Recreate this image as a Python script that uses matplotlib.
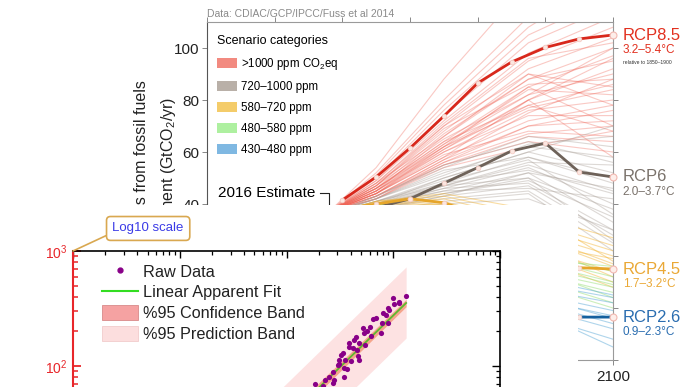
import numpy as np
import matplotlib.pyplot as plt
from matplotlib.patches import Patch
from matplotlib.lines import Line2D

plt.rcParams['font.family'] = 'Liberation Sans'
plt.rcParams['mathtext.fontset'] = 'custom'
plt.rcParams['mathtext.rm'] = 'Liberation Sans'
plt.rcParams['mathtext.it'] = 'Liberation Sans:italic'

# ---------------- background chart: emission scenarios ----------------
scen_years = [2016, 2030, 2050, 2075, 2100]
red_runs = [
    [37, 52, 80, 112, 135], [37, 54, 88, 125, 150], [37, 50, 76, 105, 120],
    [37, 49, 72, 98, 112], [37, 48, 70, 95, 108], [37, 47, 68, 92, 104],
    [37, 48, 66, 88, 100], [37, 46, 64, 85, 97], [37, 47, 65, 82, 90],
    [37, 45, 62, 80, 92], [37, 46, 63, 84, 82], [37, 45, 61, 78, 86],
    [37, 44, 60, 76, 80], [37, 46, 62, 85, 70], [37, 44, 58, 72, 78],
    [37, 45, 60, 74, 74], [37, 43, 57, 70, 72], [37, 44, 59, 68, 66],
    [37, 43, 56, 67, 70], [37, 44, 58, 80, 58], [37, 42, 55, 66, 64],
    [37, 43, 55, 64, 60], [37, 42, 54, 62, 68], [37, 45, 66, 90, 85],
    [37, 47, 70, 90, 78], [37, 46, 67, 88, 95], [37, 49, 74, 102, 116],
    [37, 51, 78, 108, 128], [37, 43, 57, 75, 88], [37, 44, 61, 80, 96],
    [37, 42, 56, 70, 76], [37, 46, 64, 78, 68], [37, 48, 71, 96, 102],
    [37, 47, 69, 86, 88], [37, 45, 63, 82, 100], [37, 44, 62, 77, 84],
]
grey_runs = [
    [36, 42, 52, 62, 58], [36, 41, 50, 60, 52], [36, 43, 54, 66, 62],
    [36, 40, 48, 58, 48], [36, 40, 47, 55, 45], [36, 39, 46, 54, 40],
    [36, 41, 49, 57, 36], [36, 38, 44, 50, 38], [36, 42, 51, 63, 66],
    [36, 39, 45, 52, 33], [36, 40, 46, 48, 30], [36, 38, 43, 47, 28],
    [36, 41, 48, 53, 44], [36, 39, 47, 56, 55], [36, 40, 50, 60, 70],
    [36, 38, 42, 45, 25], [36, 37, 41, 44, 22], [36, 39, 44, 49, 35],
    [36, 40, 45, 46, 42], [36, 42, 53, 58, 50], [36, 38, 43, 52, 46],
    [36, 41, 47, 50, 26], [36, 37, 40, 42, 30], [36, 43, 55, 64, 56],
]
orange_runs = [
    [36, 40, 42, 34, 24], [36, 39, 40, 30, 20], [36, 41, 43, 36, 27],
    [36, 38, 38, 28, 16], [36, 40, 41, 32, 22], [36, 37, 35, 24, 14],
    [36, 39, 39, 26, 12], [36, 38, 36, 22, 10], [36, 41, 44, 38, 18],
    [36, 37, 34, 20, 8], [36, 40, 40, 29, 17], [36, 39, 37, 25, 19],
]
green_runs = [
    [36, 39, 36, 20, 12], [36, 38, 33, 17, 9], [36, 40, 38, 22, 14],
    [36, 37, 31, 14, 6], [36, 38, 34, 18, 10], [36, 39, 35, 16, 4],
    [36, 36, 29, 12, 2], [36, 38, 32, 15, 8], [36, 40, 37, 19, 16],
    [36, 37, 30, 10, 0],
]
blue_runs = [
    [36, 37, 28, 8, 2], [36, 36, 25, 4, -3], [36, 38, 30, 10, 4],
    [36, 35, 22, 1, -8], [36, 37, 27, 6, -1], [36, 34, 20, -2, -12],
    [36, 36, 24, 3, -6], [36, 38, 31, 12, 5], [36, 35, 21, 0, -15],
    [36, 37, 26, 5, -4],
]
category_labels = ['>1000 ppm CO$_2$eq', '720\u20131000 ppm', '580\u2013720 ppm',
                   '480\u2013580 ppm', '430\u2013480 ppm']
category_colors = ['#ef5b4c', '#aaa098', '#f2b230', '#8fdc6a', '#4ea2d4']
category_alpha = [0.33, 0.4, 0.45, 0.45, 0.45]
legend_colors = ['#f28a80', '#b9b0a8', '#f4cc6a', '#aef0a0', '#7fb8e2']

rcp_years = [2020, 2030, 2040, 2050, 2060, 2070, 2080, 2090, 2100]
rcp85 = [41.5, 50.4, 61.5, 73.8, 86.5, 94.6, 100.2, 103.5, 105]
rcp6 = [36, 38.5, 42, 48, 54, 60.4, 63.4, 52.3, 50.4]
rcp45 = [38, 40, 42, 40.5, 36, 30, 22, 15.5, 15]
rcp26 = [37, 36, 30, 22, 14, 8, 2, -3.5, -3.5]
rcp_names = ['RCP8.5', 'RCP6', 'RCP4.5', 'RCP2.6']
rcp_ranges = ['3.2\u20135.4\u00b0C', '2.0\u20133.7\u00b0C', '1.7\u20133.2\u00b0C', '0.9\u20132.3\u00b0C']
rcp_colors = ['#d8281c', '#6e6259', '#e6a52a', '#14609e']
rcp_text_colors = ['#e2301f', '#7a726b', '#eaa835', '#2a6db0']

est_year, est_value = 2016, 37

# ---------------- inset: log-log regression ----------------
raw_x = [1315, 1000, 1122, 885, 807, 855, 784, 898, 641, 606, 568, 516, 536, 448,
         432, 382, 417, 454, 464, 481, 336, 313, 356, 301, 348, 366, 343, 271,
         252, 281, 231, 183, 218, 918, 767, 481, 388, 324, 313, 1138, 693, 1012,
         623, 547, 405, 275]
raw_y = [406, 388, 351, 318, 287, 277, 238, 235, 255, 220, 203, 213, 192, 180,
         168, 157, 143, 138, 122, 113, 131, 113, 113, 102, 95.5, 93.6, 79.8, 89.1,
         80.7, 75.5, 75.5, 69.7, 67, 307, 192, 157, 147, 125, 105, 362, 261, 346,
         182, 152, 110, 71]
fit_x = [80, 1320]
fit_y = [28.3, 353]
conf_lo = [25.5, 328]
conf_hi = [31.5, 380]
pred_lo = [13.9, 175]
pred_hi = [57.7, 727]

W, H = 692, 387


def box(l, t, r, b):
    return [l / W, 1 - b / H, (r - l) / W, (b - t) / H]


fig = plt.figure(figsize=(W / 100, H / 100), dpi=100)

ax1 = fig.add_axes(box(207, 22, 613, 360), zorder=0)
for runs, col, al in zip([red_runs, grey_runs, orange_runs, green_runs, blue_runs],
                         category_colors, category_alpha):
    for r in runs:
        ax1.plot(scen_years, r, color=col, lw=0.8, alpha=al, zorder=1)

for vals, col in zip([rcp85, rcp6, rcp45, rcp26], rcp_colors):
    ax1.plot(rcp_years, vals, color=col, lw=2, zorder=3)
    ax1.plot(rcp_years[:-1], vals[:-1], 'o', ms=3.4, mfc='#fbe6e0', mec='#f4c8c0', mew=0.5, zorder=4)
    ax1.plot(rcp_years[-1:], vals[-1:], 'o', ms=5, mfc='#fdeeea', mec='#f2b8b0', mew=0.8,
             zorder=5, clip_on=False)

for name, rng, vals, tc in zip(rcp_names, rcp_ranges, [rcp85, rcp6, rcp45, rcp26], rcp_text_colors):
    ax1.annotate(name, xy=(2100, vals[-1]), xytext=(7, 0), textcoords='offset points',
                 va='center', ha='left', fontsize=12, color=tc, annotation_clip=False)
    ax1.annotate(rng, xy=(2100, vals[-1]), xytext=(7, -11), textcoords='offset points',
                 va='center', ha='left', fontsize=8.5, color=tc, annotation_clip=False)
ax1.annotate('relative to 1850\u20131900', xy=(2100, rcp85[-1]), xytext=(7, -19.5),
             textcoords='offset points', va='center', ha='left', fontsize=3.6,
             color='#333333', annotation_clip=False)

# 2016 estimate bracket
ax1.plot([est_year - 2.7, est_year, est_year], [44.2, 44.2, est_value], color='#222222', lw=0.8, zorder=6)
ax1.text(est_year - 4.1, 44.2, '2016 Estimate', ha='right', va='center', fontsize=11)

handles = [Patch(fc=c, ec='none') for c in legend_colors]
leg = ax1.legend(handles, category_labels, title='Scenario categories', loc='upper left',
                 bbox_to_anchor=(0.025, 0.962), frameon=False, fontsize=8.3, title_fontsize=9,
                 borderpad=0, borderaxespad=0, handlelength=1.75, handleheight=0.9,
                 handletextpad=0.35, labelspacing=0.78, alignment='left')

ax1.set_xlim(1980, 2100)
ax1.set_ylim(-20, 110)
ax1.set_yticks([-20, 0, 20, 40, 60, 80, 100])
ax1.set_xticks([1980, 2000, 2020, 2040, 2060, 2080, 2100])
ax1.set_yticklabels(['', '0', '20', '40', '60', '80', '100'])
ax1.set_xticklabels(['', '', '', '', '', '', '2100'])
ax1.tick_params(axis='both', direction='out', length=3.5, width=0.7, labelsize=11,
                top=True, right=True, pad=2, colors='#222222')
ax1.tick_params(axis='y', colors='#888888', labelcolor='#222222')
ax1.tick_params(axis='x', colors='#888888', labelcolor='#222222', pad=4)
ax1.spines['left'].set_color('#555555')
for s in ['top', 'right', 'bottom']:
    ax1.spines[s].set_color('#9a9a9a')
for s in ax1.spines.values():
    s.set_linewidth(0.8)

ax1.text(207 / W, 1 - 14 / H, 'Data: CDIAC/GCP/IPCC/Fuss et al 2014', transform=fig.transFigure,
         fontsize=7.5, color='#8a8a8a', va='center', ha='left')
ax1.text(141 / W, 1 - 80 / H, 'Emissions from fossil fuels', transform=fig.transFigure,
         rotation=90, ha='center', va='top', fontsize=11.5, color='#222222', clip_on=False)
ax1.text(168 / W, 1 - 97 / H, 'and cement (GtCO$_2$/yr)', transform=fig.transFigure,
         rotation=90, ha='center', va='top', fontsize=11.5, color='#222222', clip_on=False)

# white panel of the overlaid screenshot
panel = fig.add_axes(box(0, 205, 578, 387), zorder=1)
panel.set_facecolor('white')
panel.set_xticks([])
panel.set_yticks([])
for s in panel.spines.values():
    s.set_visible(False)

# ---------------- inset log-log plot ----------------
ax2 = fig.add_axes(box(73, 251, 500, 481), zorder=2)
ax2.set_facecolor('none')
ax2.set_xscale('log')
ax2.set_yscale('log')
ax2.fill_between(fit_x, pred_lo, pred_hi, color='#fde2e2', lw=0, zorder=1)
ax2.fill_between(fit_x, conf_lo, conf_hi, color='#f5a58c', lw=0, zorder=2)
ax2.plot(fit_x, fit_y, color='#5cb82e', lw=1.3, zorder=3)
ax2.scatter(raw_x, raw_y, s=14, color='#880088', lw=0, zorder=4)
ax2.set_xlim(1, 1e4)
ax2.set_ylim(10, 1000)
ax2.set_yticks([100, 1000])

ax2.spines['left'].set_color('#e8262a')
ax2.spines['left'].set_linewidth(1.5)
ax2.spines['top'].set_linewidth(1.2)
ax2.spines['right'].set_visible(False)
ax2.spines['bottom'].set_visible(False)
ax2.tick_params(axis='x', which='both', direction='in', top=True, bottom=False,
                labeltop=False, labelbottom=False)
ax2.tick_params(axis='x', which='major', length=5, width=1)
ax2.tick_params(axis='x', which='minor', length=3, width=0.9)
ax2.tick_params(axis='y', which='both', direction='in', left=True, right=False,
                colors='#e8262a', labelsize=10, pad=4)
ax2.tick_params(axis='y', which='major', length=6, width=1.3)
ax2.tick_params(axis='y', which='minor', length=3.5, width=1.1)

ax3 = ax2.twinx()
ax3.set_yscale('log')
ax3.set_ylim(10, 1000)
ax3.set_facecolor('none')
for s in ['left', 'top', 'bottom']:
    ax3.spines[s].set_visible(False)
ax3.spines['right'].set_linewidth(1.2)
ax3.tick_params(axis='y', which='both', direction='in', labelright=False)
ax3.tick_params(axis='y', which='major', length=6, width=1)
ax3.tick_params(axis='y', which='minor', length=3, width=0.9)

inset_handles = [
    Line2D([], [], ls='none', marker='o', ms=3.5, color='#880088'),
    Line2D([], [], color='#33dd22', lw=1.5),
    Patch(fc='#f5a2a2', ec='#d88a8a', lw=0.6),
    Patch(fc='#fcdede', ec='#f2cccc', lw=0.6),
]
inset_labels = ['Raw Data', 'Linear Apparent Fit', '%95 Confidence Band', '%95 Prediction Band']
ax2.legend(inset_handles, inset_labels, loc='upper left', bbox_to_anchor=(0.068, 0.944),
           frameon=False, fontsize=11.7, borderpad=0, borderaxespad=0, handlelength=2.2,
           handleheight=1.0, handletextpad=0.3, labelspacing=0.3, labelcolor='#222222')

ax2.annotate('Log10 scale', xy=(0, 1), xycoords='axes fraction', xytext=(0.176, 1.098),
             textcoords='axes fraction', ha='center', va='center', color='#3b3be6',
             fontsize=9.5, family=['Liberation Sans Narrow', 'Liberation Sans'],
             bbox=dict(boxstyle='round,pad=0.45,rounding_size=0.3', fc='white', ec='#d9a850', lw=1.2),
             arrowprops=dict(arrowstyle='-', color='#d9a850', lw=1.2, shrinkA=0, shrinkB=0,
                             relpos=(0, 0.15)),
             annotation_clip=False)

fig.savefig('out.png', dpi=100)
